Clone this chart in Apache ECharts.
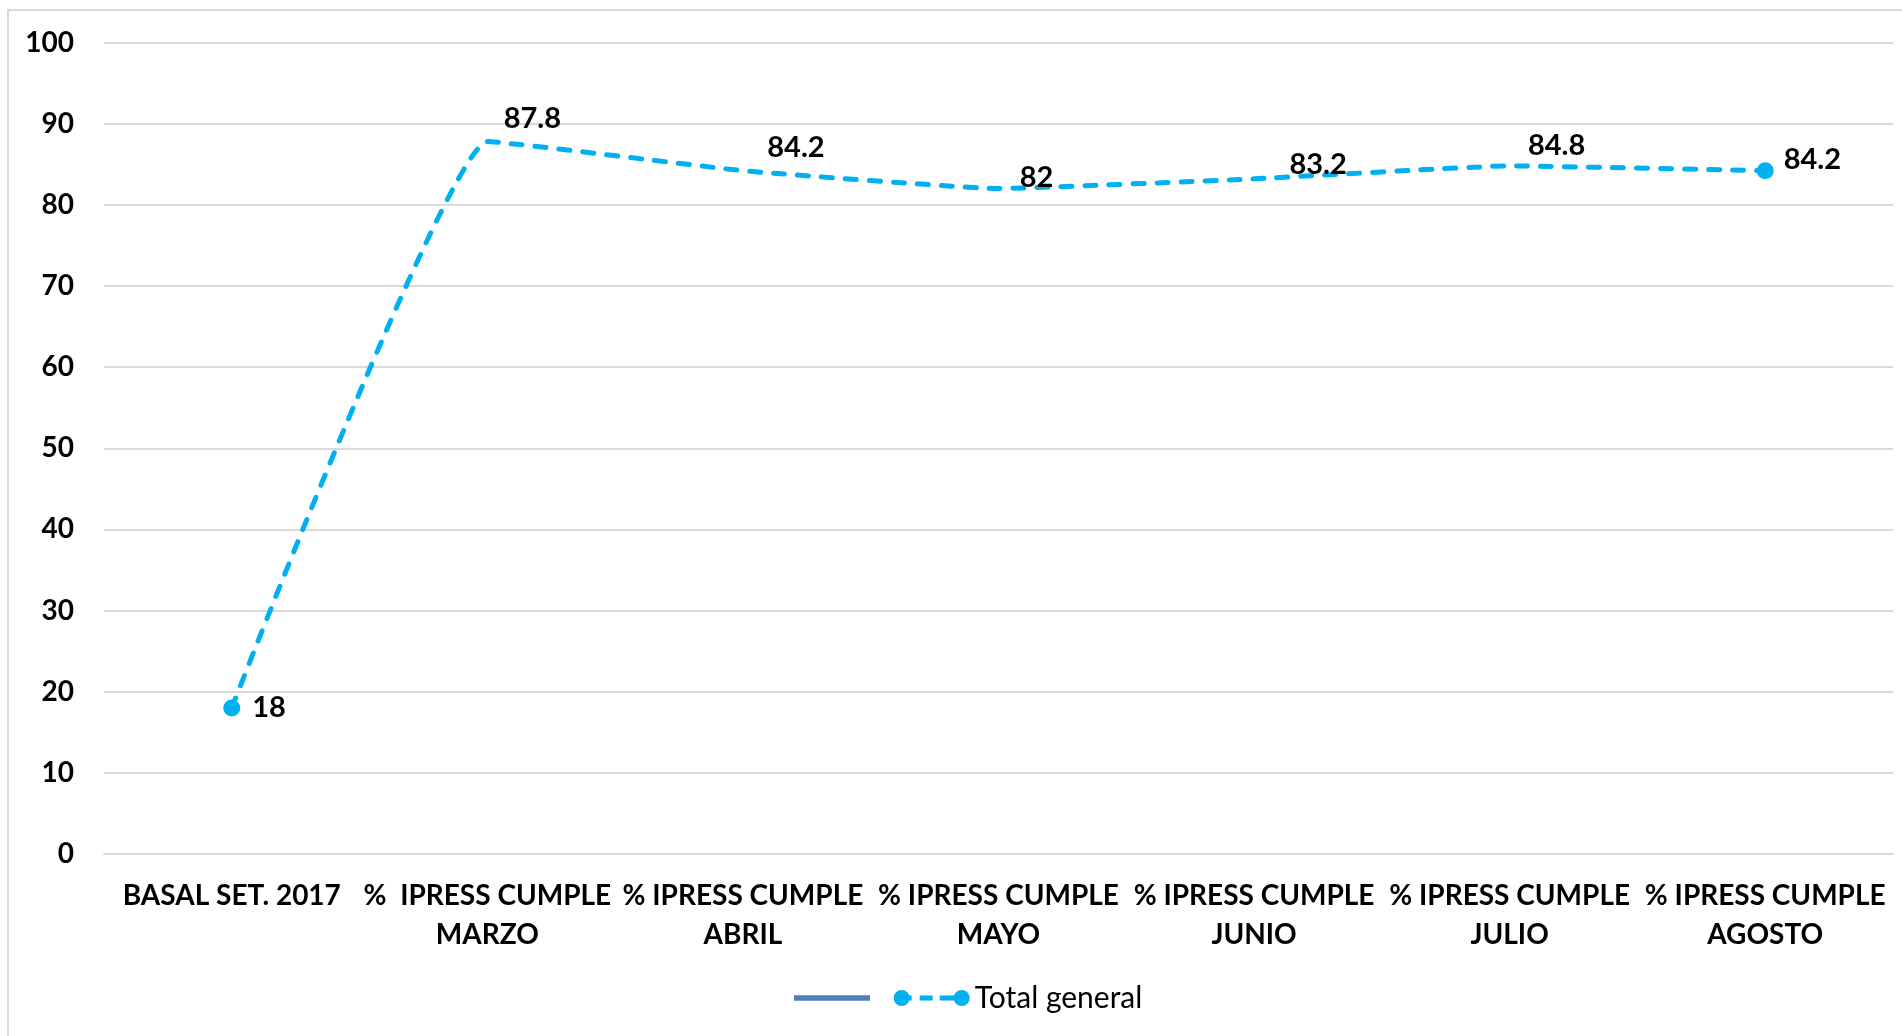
<!DOCTYPE html>
<html>
<head>
<meta charset="utf-8">
<script src="https://cdn.jsdelivr.net/npm/echarts@6/dist/echarts.min.js"></script>
<style>
  html, body { margin: 0; padding: 0; background: #fff; }
  #chart { width: 1902px; height: 1036px; }
</style>
</head>
<body>
<div id="chart"></div>
<script>
// Categories (x axis)
const categories = [
  'BASAL SET. 2017',
  '%  IPRESS CUMPLE\nMARZO',
  '% IPRESS CUMPLE\nABRIL',
  '% IPRESS CUMPLE\nMAYO',
  '% IPRESS CUMPLE\nJUNIO',
  '% IPRESS CUMPLE\nJULIO',
  '% IPRESS CUMPLE\nAGOSTO'
];

// Series values
const totalGeneral = [18, 87.8, 84.2, 82, 83.2, 84.8, 84.2];

// Y axis range
const yMin = 0;
const yMax = 100;
const yStep = 10;

// Series names
const mainSeriesName = 'Total general';
const blankSeriesName = ' ';

// Per-label nudges [dx, dy]
const labelNudge = [[0, 0], [45, -3], [53, -4], [38, 9], [64, 5], [47, -1], [0, -11]];

const FONT = 'Lato, "Open Sans", sans-serif';
const last = totalGeneral.length - 1;

// Legend icons: plain solid bar, and dot-dash-dash-dot marker
const ICON_SOLID = 'path://M0,0 L69,0 L69,5 L0,5 Z';
const ICON_MARKER = 'path://M0,8 A8,8 0 1,1 16,8 A8,8 0 1,1 0,8 Z ' +
  'M14,5.5 L18,5.5 L18,10.5 L14,10.5 Z ' +
  'M26,5.5 L39,5.5 L39,10.5 L26,10.5 Z ' +
  'M46,5.5 L62,5.5 L62,10.5 L46,10.5 Z ' +
  'M60,8 A8,8 0 1,1 76,8 A8,8 0 1,1 60,8 Z';

const seriesData = totalGeneral.map((v, i) => {
  const isEnd = i === 0 || i === last;
  const item = { value: v, symbolSize: isEnd ? 17 : 0 };
  if (i === 0) {
    item.label = { position: 'right', distance: 12, offset: labelNudge[i] };
  } else if (i === last) {
    item.label = { position: 'right', distance: 10, offset: labelNudge[i] };
  } else {
    item.label = { position: 'top', offset: labelNudge[i] };
  }
  return item;
});

const chart = echarts.init(document.getElementById('chart'));
chart.setOption({
  animation: false,
  backgroundColor: '#ffffff',
  grid: { left: 104, right: 9, top: 42.5, bottom: 182, containLabel: false },
  xAxis: {
    type: 'category',
    data: categories,
    boundaryGap: true,
    axisLine: { show: true, lineStyle: { color: '#d9d9d9', width: 2 } },
    axisTick: { show: false },
    axisLabel: {
      interval: 0,
      margin: 22,
      color: '#000',
      fontFamily: FONT,
      fontWeight: 'bold',
      fontSize: 28,
      lineHeight: 39
    }
  },
  yAxis: {
    type: 'value',
    min: yMin,
    max: yMax,
    interval: yStep,
    axisLine: { show: false },
    axisTick: { show: false },
    splitLine: { lineStyle: { color: '#d9d9d9', width: 2 } },
    axisLabel: {
      margin: 30,
      color: '#000',
      fontFamily: FONT,
      fontWeight: 'bold',
      fontSize: 28
    }
  },
  legend: {
    left: 789,
    top: 978,
    itemWidth: 76,
    itemHeight: 16,
    itemGap: 11,
    textStyle: { color: '#000', fontFamily: FONT, fontSize: 30 },
    data: [
      { name: blankSeriesName, icon: ICON_SOLID },
      { name: mainSeriesName, icon: ICON_MARKER }
    ]
  },
  graphic: [{
    type: 'rect',
    shape: { x: 8, y: 10, width: 1902, height: 1036 },
    style: { fill: 'none', stroke: '#d9d9d9', lineWidth: 2 },
    silent: true,
    z: -1
  }],
  series: [
    {
      name: blankSeriesName,
      type: 'line',
      data: [],
      symbol: 'none',
      color: '#4F81BD',
      lineStyle: { color: '#4F81BD', width: 5 }
    },
    {
      name: mainSeriesName,
      type: 'line',
      data: seriesData,
      smooth: 0.1,
      color: '#00B0F0',
      symbol: 'circle',
      showAllSymbol: true,
      lineStyle: { color: '#00B0F0', width: 5, type: [11, 13], cap: 'round' },
      itemStyle: { color: '#00B0F0' },
      label: {
        show: true,
        color: '#000',
        fontFamily: FONT,
        fontWeight: 'bold',
        fontSize: 29
      }
    }
  ]
});
</script>
</body>
</html>
